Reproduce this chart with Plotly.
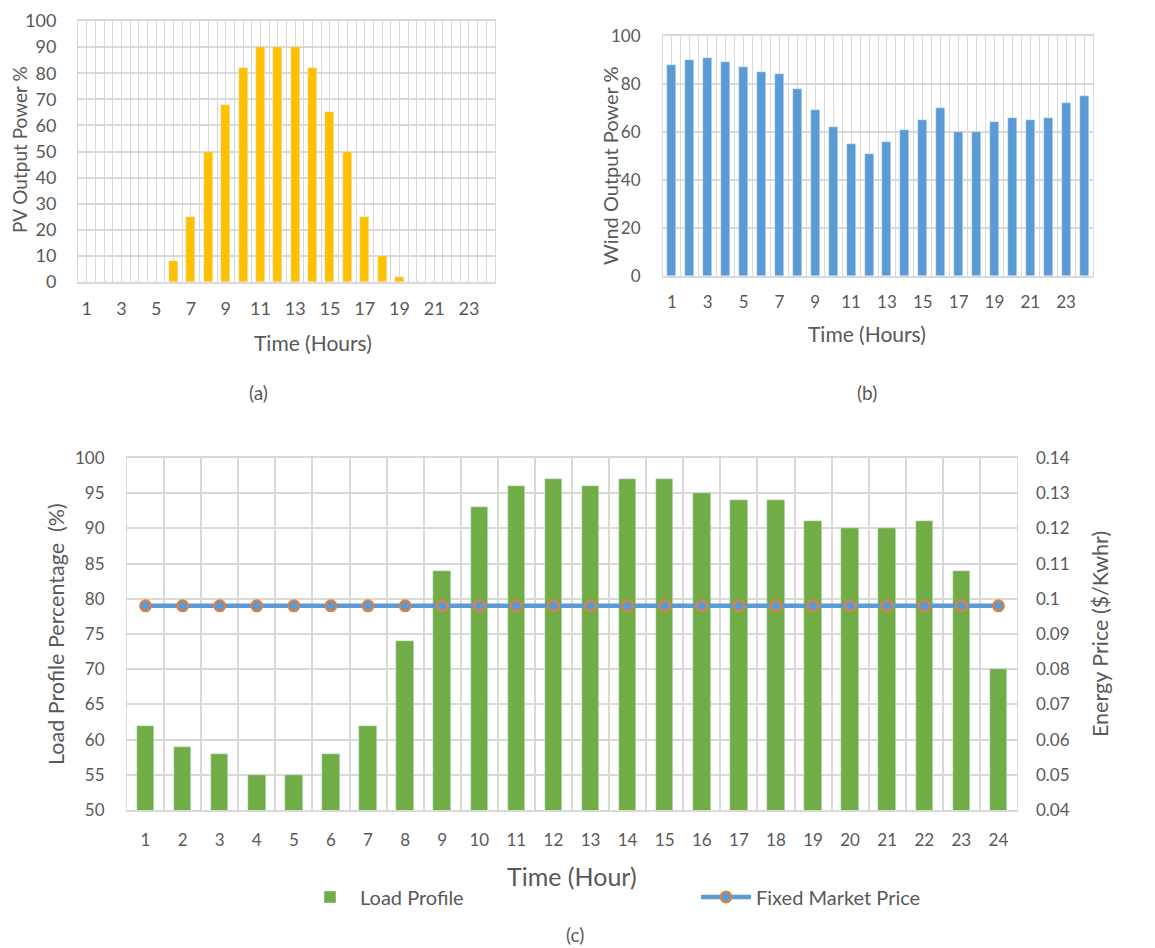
import plotly.graph_objects as go

hours = list(range(1, 25))
pv_output = [0, 0, 0, 0, 0, 8, 25, 50, 68, 82, 90, 90, 90, 82, 65, 50, 25, 10, 2, 0, 0, 0, 0, 0]
wind_output = [88, 90, 91, 89, 87, 85, 84, 78, 69, 62, 55, 51, 56, 61, 65, 70, 60, 60, 64, 66, 65, 66, 72, 75]
load_profile = [62, 59, 58, 55, 55, 58, 62, 74, 84, 93, 96, 97, 96, 97, 97, 95, 94, 94, 91, 90, 90, 91, 84, 70]
market_price = [0.098] * 24
odd_hour_ticks = [1, 3, 5, 7, 9, 11, 13, 15, 17, 19, 21, 23]
price_tickvals = [0.04, 0.05, 0.06, 0.07, 0.08, 0.09, 0.10, 0.11, 0.12, 0.13, 0.14]
price_ticktext = ["0.04", "0.05", "0.06", "0.07", "0.08", "0.09", "0.1", "0.11", "0.12", "0.13", "0.14"]

# page body has an 8px margin; figure is sized so that it ends at the window edge
OFF = 8
W, H = 1155 - OFF, 948 - OFF
FONT = "Lato, 'Open Sans', sans-serif"
TXT = "#595959"
GRID = "#D9D9D9"


def px(x):
    return (x - OFF) / W


def py(y):
    return 1 - (y - OFF) / H


fig = go.Figure()

fig.add_trace(go.Bar(x=hours, y=pv_output, marker_color="#FFC000", width=0.52,
                     xaxis="x", yaxis="y", showlegend=False, name="PV"))
fig.add_trace(go.Bar(x=hours, y=wind_output, marker_color="#5B9BD5", width=0.5,
                     xaxis="x2", yaxis="y2", showlegend=False, name="Wind"))
fig.add_trace(go.Bar(x=hours, y=load_profile, marker_color="#70AD47", width=0.47,
                     xaxis="x3", yaxis="y3", name="Load Profile"))
fig.add_trace(go.Scatter(x=hours, y=market_price, mode="lines+markers",
                         line=dict(color="#5B9BD5", width=4.5),
                         marker=dict(size=11, color="#5B9BD5", line=dict(color="#ED7D31", width=2)),
                         xaxis="x3", yaxis="y4", name="Fixed Market Price"))

tickfont = dict(family=FONT, size=17, color=TXT)
tickfont_a = dict(family=FONT, size=18, color=TXT)

common_x = dict(range=[0.5, 24.5], tickfont=tickfont, zeroline=False, showline=True,
                linecolor=GRID, linewidth=1.5, mirror=True, ticks="", gridcolor=GRID,
                gridwidth=1, ticklabelstandoff=10, automargin=False,
                ticklabeloverflow="allow")
common_y = dict(tickfont=tickfont, zeroline=False, showline=True, linecolor=GRID,
                mirror=True, ticks="", gridcolor=GRID, gridwidth=1.5, ticklabelstandoff=18,
                automargin=False, ticklabeloverflow="allow")

layout = dict(
    width=W, height=H, margin=dict(l=0, r=0, t=0, b=0, autoexpand=False),
    paper_bgcolor="white", plot_bgcolor="white",
    font=dict(family=FONT, color=TXT),
    bargap=0,
    xaxis=dict(common_x, domain=[px(78), px(495)], anchor="y", tickmode="array",
               tickvals=odd_hour_ticks, showgrid=True, tickfont=tickfont_a,
               minor=dict(tickmode="linear", tick0=0.5, dtick=0.5, showgrid=True,
                          gridcolor=GRID, gridwidth=1)),
    yaxis=dict(common_y, domain=[py(282), py(21)], anchor="x", range=[0, 100], dtick=10,
               tickfont=tickfont_a, ticklabelstandoff=17),
    xaxis2=dict(common_x, domain=[px(663), px(1093)], anchor="y2", tickmode="array",
                tickvals=odd_hour_ticks, showgrid=True,
                minor=dict(tickmode="linear", tick0=0.5, dtick=0.5, showgrid=True,
                           gridcolor=GRID, gridwidth=1)),
    yaxis2=dict(common_y, domain=[py(276), py(36)], anchor="x2", range=[0, 100], dtick=20),
    xaxis3=dict(common_x, domain=[px(127), px(1017)], anchor="y3", tickmode="array",
                tickvals=hours, showgrid=False, ticklabelstandoff=14,
                minor=dict(tickmode="linear", tick0=0.5, dtick=1, showgrid=True,
                           gridcolor=GRID, gridwidth=1.5)),
    yaxis3=dict(common_y, domain=[py(810), py(458)], anchor="x3", range=[50, 100], dtick=5),
    yaxis4=dict(tickfont=tickfont, overlaying="y3", side="right", anchor="x3",
                range=[0.04, 0.14], tickmode="array", tickvals=price_tickvals,
                ticktext=price_ticktext, showgrid=False, zeroline=False, ticks="",
                ticklabelstandoff=18, automargin=False, ticklabeloverflow="allow"),
    legend=dict(orientation="h", x=px(300), y=py(897), xanchor="left", yanchor="middle",
                font=dict(family=FONT, size=20, color=TXT), entrywidth=331,
                entrywidthmode="pixels", itemwidth=50, bgcolor="rgba(0,0,0,0)",
                traceorder="normal"),
)
fig.update_layout(**layout)


def ann(text, x, y, size, angle=0):
    fig.add_annotation(text=text, x=px(x), y=py(y), xref="paper", yref="paper",
                       showarrow=False, xanchor="center", yanchor="middle",
                       textangle=angle, font=dict(family=FONT, size=size, color=TXT))


ann("PV Output Power %", 20, 150, 19, -90)
ann("Time (Hours)", 313, 342, 21)
ann("(a)", 258, 393, 19)
ann("Wind Output Power %", 610, 166, 20, -90)
ann("Time (Hours)", 867, 333, 21)
ann("(b)", 867, 393, 19)
ann("Load Profile Percentage  (%)", 56, 634, 21.5, -90)
ann("Energy Price ($/Kwhr)", 1100, 634, 21.5, -90)
ann("Time (Hour)", 572, 876, 25)
ann("(c)", 575, 934, 19)

fig.write_html("out.html")
